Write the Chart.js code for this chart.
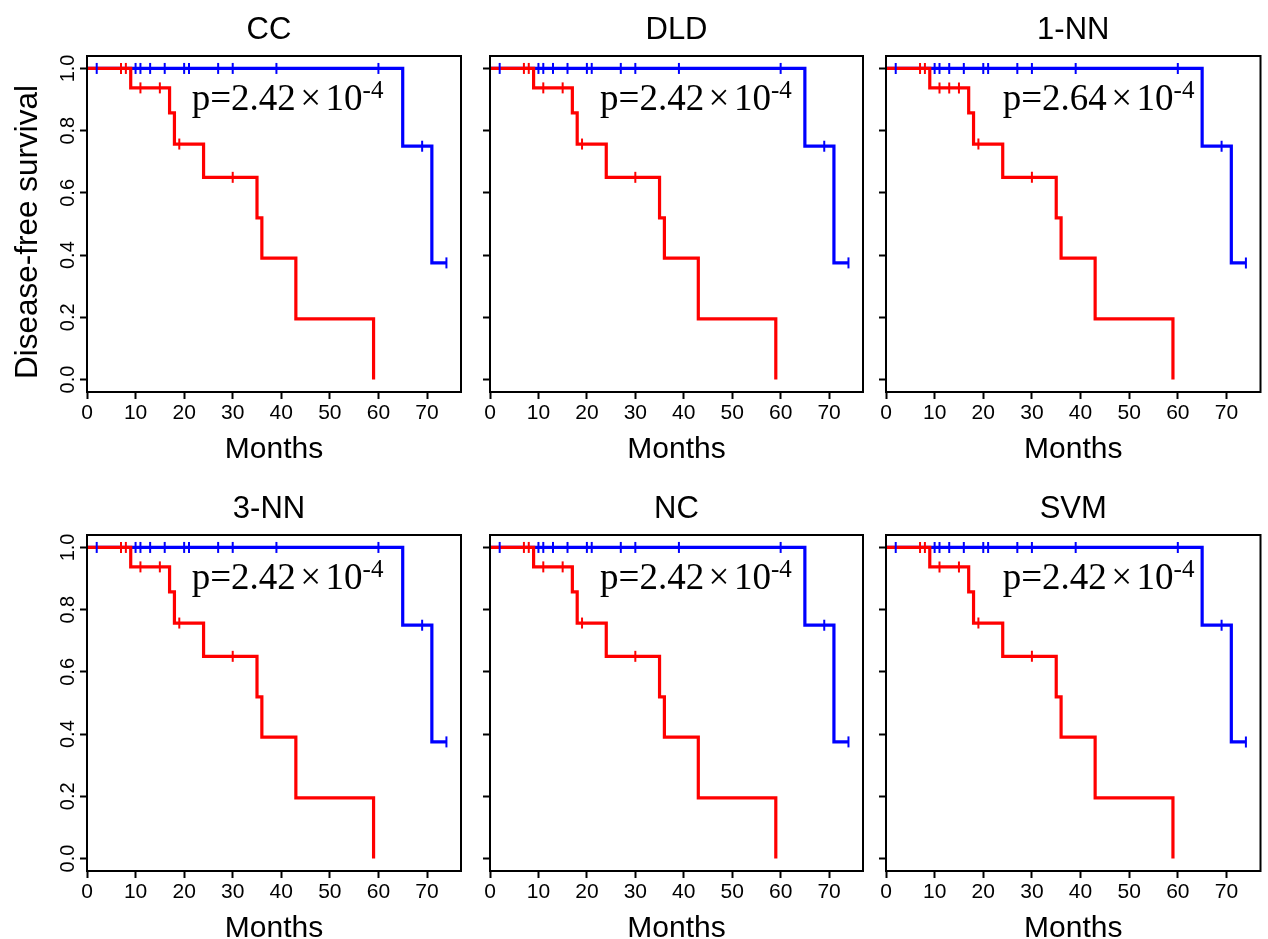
<!DOCTYPE html>
<html><head><meta charset="utf-8">
<script src="https://cdn.jsdelivr.net/npm/chart.js@4"></script>
<style>
html,body{margin:0;padding:0;background:#fff;}
#wrap{position:relative;width:1268px;height:939px;overflow:hidden;}
#wrap canvas{position:absolute;left:0;top:0;}
</style></head><body><div id="wrap"></div>
<script>
// ---------------- data ----------------
const panelTitles = ['CC', 'DLD', '1-NN', '3-NN', 'NC', 'SVM'];
const pValues = ['2.42', '2.42', '2.64', '2.42', '2.42', '2.42'];
const pExponent = '-4';
const monthTicks = [0, 10, 20, 30, 40, 50, 60, 70];
const survivalTicks = [0, 0.2, 0.4, 0.6, 0.8, 1.0];

// red group
const redEventMonths = [0, 9, 17, 18, 24, 35, 36, 43, 59];
const redSurvival = [1, 0.9375, 0.857, 0.757, 0.65, 0.52, 0.39, 0.195, 0];
const redCensorMonths = [7, 8, 11, 15, 19, 30];
const redCensorSurvival = [1, 1, 0.9375, 0.9375, 0.757, 0.65];
const redCensorMonths1NN = [7, 8, 11, 13, 15, 19, 30];
const redCensorSurvival1NN = [1, 1, 0.9375, 0.9375, 0.9375, 0.757, 0.65];

// blue group
const blueEventMonths = [0, 65, 71, 74];
const blueSurvival = [1, 0.75, 0.375, 0.375];
const blueCensorMonths = [2, 10, 11, 13, 16, 20, 21, 27, 30, 39, 60, 69, 74];
const blueCensorSurvival = [1, 1, 1, 1, 1, 1, 1, 1, 1, 1, 1, 0.75, 0.375];

// ---------------- layout ----------------
const W = 1268, H = 939;
const colLeft = [87, 490, 886], colRight = [461, 863, 1261];
const rowTop = [56, 535], rowBottom = [392, 871];
const pTextCenter = [41.3, 42.5, 43.7];
const Y_AXIS_W = 40, X_AXIS_H = 40;
const SANS = '"Liberation Sans", Arial, sans-serif';
const SERIF = '"Liberation Serif", "Times New Roman", serif';

const pts = (xs, ys) => xs.map((x, i) => ({x: x, y: ys[i]}));

const framePlugin = {
  id: 'frame',
  afterDraw(chart, args, o) {
    const ctx = chart.ctx, a = chart.chartArea;
    ctx.save();
    ctx.strokeStyle = '#000'; ctx.lineWidth = 2;
    ctx.strokeRect(a.left, a.top, a.right - a.left, a.bottom - a.top);
    ctx.fillStyle = '#000';
    // title
    ctx.font = '31px ' + SANS; ctx.textAlign = 'center'; ctx.textBaseline = 'alphabetic';
    ctx.fillText(o.title, (a.left + a.right) / 2 - (o.col === 0 ? 5 : 0), a.top - 17);
    // x title
    ctx.font = '30px ' + SANS;
    ctx.fillText('Months', (a.left + a.right) / 2, a.bottom + 66);
    // y title
    if (o.yTitle) {
      ctx.save();
      ctx.font = '31.5px ' + SANS;
      ctx.translate(37, 232);
      ctx.rotate(-Math.PI / 2);
      ctx.fillText('Disease-free survival', 0, 0);
      ctx.restore();
    }
    // p-value
    const F = 37, FS = 25;
    const cx = chart.scales.x.getPixelForValue(pTextCenter[o.col]);
    const by = chart.scales.y.getPixelForValue(0.866);
    ctx.textAlign = 'left';
    ctx.font = F + 'px ' + SERIF;
    const t1 = 'p=' + o.pval, t2 = '\u00D7', t3 = '10';
    const gap = F * 0.12;
    const w1 = ctx.measureText(t1).width, w2 = ctx.measureText(t2).width, w3 = ctx.measureText(t3).width;
    ctx.font = FS + 'px ' + SERIF;
    const w4 = ctx.measureText(pExponent).width;
    let x = cx - (w1 + gap + w2 + gap + w3 + w4) / 2;
    ctx.font = F + 'px ' + SERIF;
    ctx.fillText(t1, x, by); x += w1 + gap;
    ctx.fillText(t2, x, by); x += w2 + gap;
    ctx.fillText(t3, x, by); x += w3;
    ctx.font = FS + 'px ' + SERIF;
    ctx.fillText(pExponent, x, by - 12);
    ctx.restore();
  }
};

const wrap = document.getElementById('wrap');
panelTitles.forEach((title, k) => {
  const c = k % 3, r = Math.floor(k / 3);
  const cv = document.createElement('canvas');
  cv.width = W; cv.height = H;
  cv.style.width = W + 'px'; cv.style.height = H + 'px';
  wrap.appendChild(cv);
  const is1NN = title === '1-NN';
  const rcM = is1NN ? redCensorMonths1NN : redCensorMonths;
  const rcS = is1NN ? redCensorSurvival1NN : redCensorSurvival;
  new Chart(cv, {
    type: 'scatter',
    data: {
      datasets: [
        {data: pts(blueCensorMonths, blueCensorSurvival), showLine: false, pointStyle: 'line', rotation: 90,
         pointRadius: 5.5, pointBorderWidth: 2, borderColor: '#0000ff', backgroundColor: '#0000ff'},
        {data: pts(rcM, rcS), showLine: false, pointStyle: 'line', rotation: 90,
         pointRadius: 5.5, pointBorderWidth: 2, borderColor: '#ff0000', backgroundColor: '#ff0000'},
        {data: pts(redEventMonths, redSurvival), showLine: true, stepped: true, pointRadius: 0,
         borderColor: '#ff0000', borderWidth: 3.2, fill: false},
        {data: pts(blueEventMonths, blueSurvival), showLine: true, stepped: true, pointRadius: 0,
         borderColor: '#0000ff', borderWidth: 3.2, fill: false}
      ]
    },
    options: {
      responsive: false, animation: false, devicePixelRatio: 1,
      events: [],
      layout: {padding: {
        left: colLeft[c] - Y_AXIS_W, right: W - colRight[c],
        top: rowTop[r], bottom: H - rowBottom[r] - X_AXIS_H}},
      plugins: {legend: {display: false}, tooltip: {enabled: false},
        frame: {title: title, pval: pValues[k], yTitle: k === 0, col: c}},
      scales: {
        x: {type: 'linear', min: 0, max: 77,
          afterBuildTicks: s => { s.ticks = monthTicks.map(v => ({value: v})); },
          afterFit: s => { s.height = X_AXIS_H; },
          border: {display: false},
          grid: {drawOnChartArea: false, drawTicks: true, tickLength: 7, tickWidth: 2, color: '#000'},
          ticks: {color: '#000', font: {family: SANS, size: 21}, padding: 2, maxRotation: 0, minRotation: 0}
        },
        y: {type: 'linear', min: -0.04, max: 1.04,
          afterBuildTicks: s => { s.ticks = survivalTicks.map(v => ({value: v})); },
          afterFit: s => { s.width = Y_AXIS_W; },
          border: {display: false},
          grid: {drawOnChartArea: false, drawTicks: true, tickLength: 7, tickWidth: 2, color: '#000'},
          ticks: {display: c === 0, color: '#000', font: {family: SANS, size: 20}, padding: -2,
            minRotation: 90, maxRotation: 90, crossAlign: 'center',
            callback: v => Number(v).toFixed(1)}
        }
      }
    },
    plugins: [framePlugin]
  });
});
</script></body></html>
